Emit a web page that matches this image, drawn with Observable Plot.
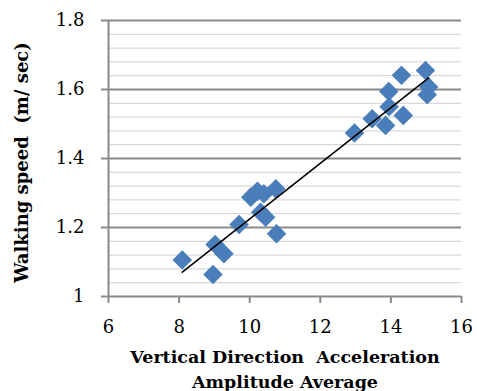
<!DOCTYPE html>
<html><head><meta charset="utf-8">
<script src="https://cdn.jsdelivr.net/npm/d3@7"></script>
<script src="https://cdn.jsdelivr.net/npm/@observablehq/plot@0.6"></script>
<style>body{margin:0;background:#fff}</style>
</head><body><div id="chart"></div>
<script>
const accel = [8.09, 8.96, 9.02, 9.27, 9.70, 10.03, 10.22, 10.40, 10.74, 10.31, 10.45, 10.76, 12.97, 13.47, 13.85, 13.94, 13.95, 14.30, 14.35, 14.98, 15.07, 15.03];
const speed = [1.106, 1.064, 1.151, 1.124, 1.209, 1.288, 1.305, 1.298, 1.312, 1.244, 1.230, 1.182, 1.474, 1.515, 1.496, 1.594, 1.550, 1.641, 1.525, 1.655, 1.607, 1.585];
const xTicks = [6, 8, 10, 12, 14, 16];
const yTicks = [1, 1.2, 1.4, 1.6, 1.8];
const yMinor = [1.04,1.08,1.12,1.16,1.24,1.28,1.32,1.36,1.44,1.48,1.52,1.56,1.64,1.68,1.72,1.76];
const xTitle = "Vertical Direction  Acceleration\nAmplitude Average";
const yTitle = "Walking speed  (m/ sec)";
const data = accel.map((x, i) => ({x, y: speed[i]}));
const font = "'DejaVu Serif', serif";

const chart = Plot.plot({
  width: 477, height: 391,
  marginLeft: 108, marginRight: 16, marginTop: 20, marginBottom: 95,
  style: {fontFamily: font, fontSize: "18px", background: "#fff", color: "#000"},
  x: {domain: [6, 16]},
  y: {domain: [1, 1.8]},
  marks: [
    Plot.ruleY(yMinor, {stroke: "#cfcfcf", strokeWidth: 1, strokeOpacity: 1}),
    Plot.ruleY(yTicks, {stroke: "#8a8a8a", strokeWidth: 2, strokeOpacity: 1}),
    Plot.ruleX([6], {y1: 1, y2: 1.8, stroke: "#8a8a8a", strokeWidth: 2, strokeOpacity: 1}),
    Plot.axisY({ticks: yTicks, tickSize: 7, tickPadding: 17, tickFormat: d3.format("~g"), stroke: "#8a8a8a", strokeWidth: 2, strokeOpacity: 1, fill: "#000", fontSize: 18, label: null}),
    Plot.axisX({ticks: xTicks, tickSize: 7, tickPadding: 17, tickFormat: d3.format("~g"), stroke: "#8a8a8a", strokeWidth: 2, strokeOpacity: 1, fill: "#000", fontSize: 18, label: null}),
    Plot.dot(data, {x: "x", y: "y", symbol: "diamond2", r: 8.8, fill: "#4A7EBB", stroke: "none"}),
    Plot.linearRegressionY(data, {x: "x", y: "y", stroke: "#000", strokeWidth: 1.6, ci: 0}),
    Plot.text([xTitle], {text: d => d, frameAnchor: "bottom", lineAnchor: "top", dy: 48, fontWeight: "bold", fontSize: 17.5, lineHeight: 1.45, fill: "#000"}),
    Plot.text([yTitle], {text: d => d, frameAnchor: "left", textAnchor: "middle", rotate: -90, dx: -86, dy: 4, fontWeight: "bold", fontSize: 18, fill: "#000"})
  ]
});
document.getElementById("chart").appendChild(chart);
</script>
</body></html>
